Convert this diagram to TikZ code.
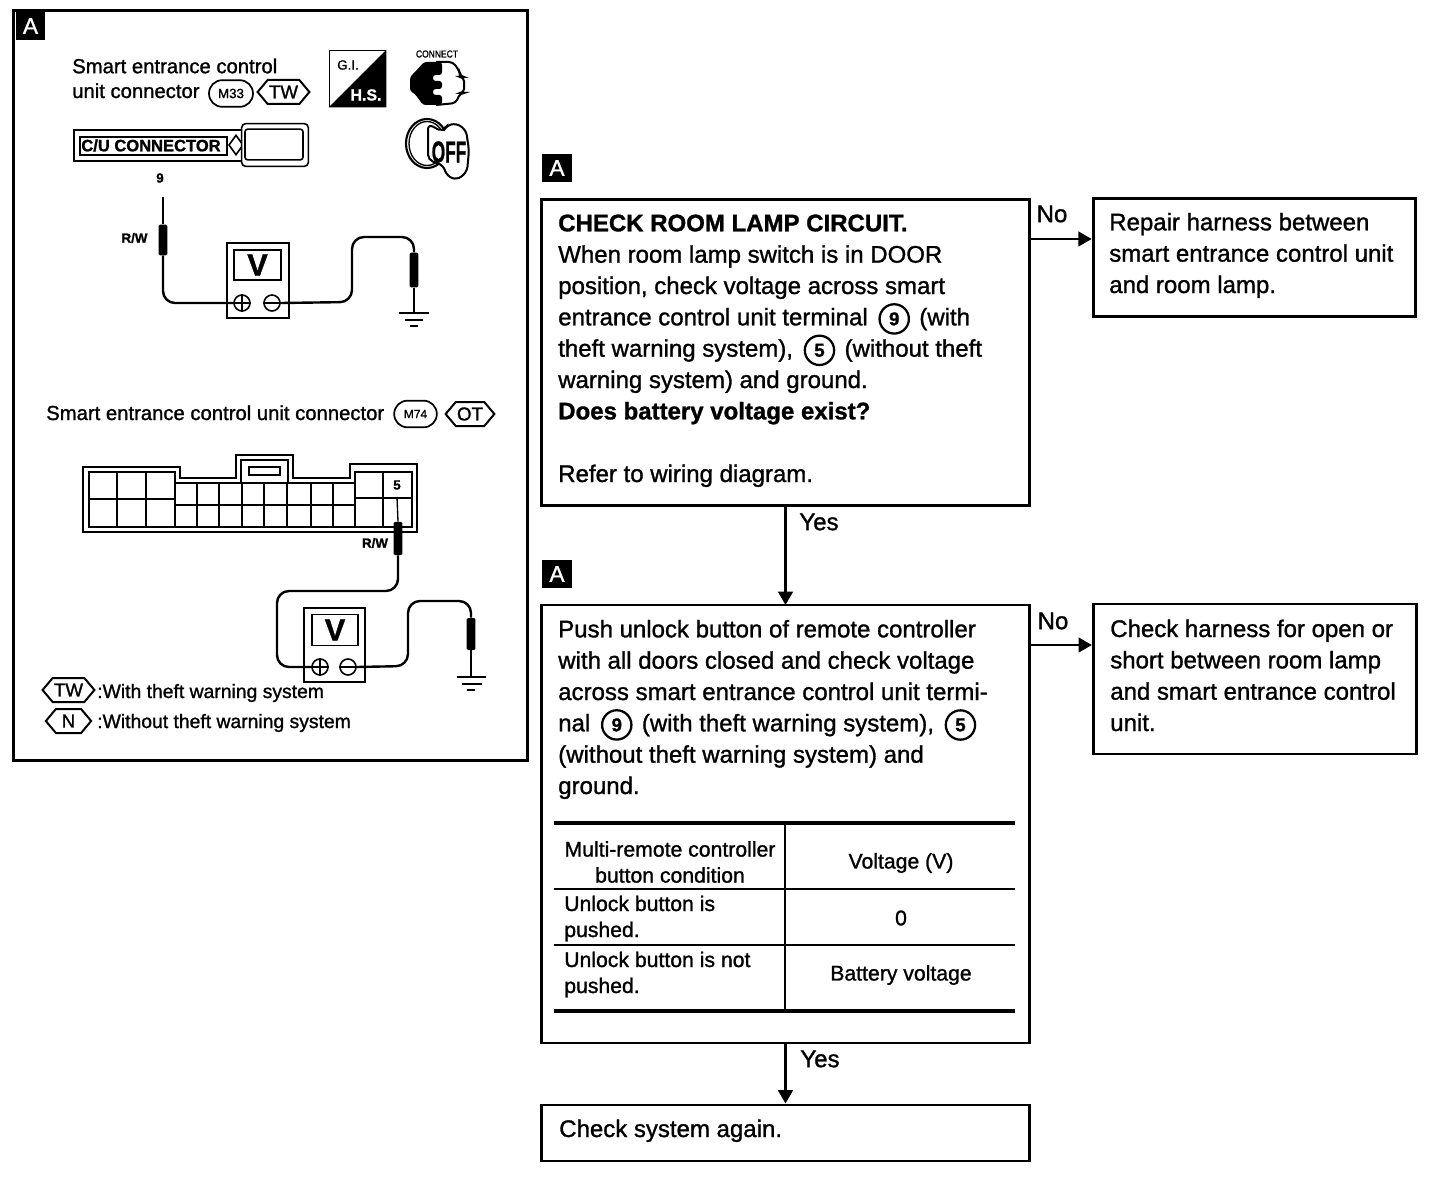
\documentclass[tikz,border=0pt]{standalone}
\usepackage{fontspec}
\setmainfont{Liberation Sans}[FakeBold=1.2]
\usepackage{tikz}
\usetikzlibrary{shapes,arrows.meta,positioning}
\newcommand{\BodyFont}{\fontsize{18pt}{23.5pt}\selectfont}
\newcommand{\CellFont}{\fontsize{15.9pt}{19.5pt}\selectfont}
\newcommand{\PanelFont}{\fontsize{15.2pt}{18.6pt}\selectfont}
\newcommand{\LegendFont}{\fontsize{14.5pt}{18.6pt}\selectfont}
\newcommand{\TermNum}[1]{\hspace{3pt}\smash{\tikz[baseline=(n.base)] \node (n) [circle, draw, line width=1.7pt, minimum size=22pt, inner sep=0pt, font=\bfseries\fontsize{14pt}{14pt}\selectfont] {#1};}\hspace{2pt}}

\begin{document}
\begin{tikzpicture}[x=0.75pt, y=-0.75pt]
	\tikzstyle{Box}		= [draw, line width=2.2pt, rectangle, inner sep=0pt]
	\tikzstyle{Body}	= [anchor=base west, inner sep=0pt, align=left, font=\BodyFont]
	\tikzstyle{Cell}	= [inner sep=0pt, align=center, font=\CellFont]
	\tikzstyle{CellL}	= [anchor=base west, inner sep=0pt, align=left, font=\CellFont]
	\tikzstyle{Panel}	= [anchor=base west, inner sep=0pt, align=left, font=\PanelFont]
	\tikzstyle{Legend}	= [anchor=base west, inner sep=0pt, align=left, font=\LegendFont]
	\tikzstyle{Mark}	= [rectangle, fill=black, text=white, minimum width=22pt, minimum height=21pt, inner sep=0pt, font=\fontsize{17pt}{17pt}\selectfont]
	\tikzstyle{Flow}	= [line width=1.8pt, -{Triangle[length=10pt, width=11pt]}]
	\tikzstyle{Rule}	= [line width=3pt]
	\tikzstyle{Thin}	= [line width=1.8pt]
	\tikzstyle{Hex}		= [draw, line width=1.5pt, signal, signal to=west and east, signal pointer angle=100, inner sep=1pt, minimum height=18pt, font=\fontsize{14pt}{14pt}\selectfont]
	\tikzstyle{Plug}	= [draw, line width=1.3pt, rounded rectangle, minimum width=33pt, minimum height=20pt, inner sep=0pt, font=\fontsize{10pt}{10pt}\selectfont]
	\tikzstyle{Meter}	= [draw, line width=1.5pt, rectangle, inner sep=0pt]
	\tikzstyle{Display}	= [draw, line width=1.2pt, rectangle, inner sep=0pt, font=\bfseries\fontsize{23pt}{23pt}\selectfont]
	\tikzstyle{Pole}	= [draw, circle, line width=1.2pt, fill=white, minimum size=12pt, inner sep=0pt]
	\tikzstyle{Grip}	= [rectangle, fill=black, rounded corners=1pt, minimum width=6.5pt, inner sep=0pt]
	\tikzstyle{Wire}	= [line width=1.8pt, rounded corners=9pt]
	\tikzstyle{Tip}		= [line width=1pt]
	\tikzstyle{Small}	= [inner sep=0pt, font=\bfseries\fontsize{10pt}{10pt}\selectfont]

	\useasboundingbox (0, 0) rectangle (1456, 1184);

	% left panel
	\node (panel) at (270.5, 385.5) [Box, minimum width=386pt, minimum height=562pt] {};
	\node (markL) at (30.5, 26) [Mark] {A};

	\node (title1) at (72, 98) [Panel] {Smart entrance control\\unit connector};
	\node (m33) at (231, 93.5) [Plug] {M33};
	\node (tw1) at (283.5, 92) [Hex] {TW};

	% icons
	\node (hs) at (357.5, 78.5) [draw, line width=1.2pt, minimum size=42pt, inner sep=0pt] {};
	\fill (hs.north east) -- (hs.south west) -- (hs.south east) -- cycle;
	\node (hsT) at (366, 95) [inner sep=0pt, text=white, font=\bfseries\fontsize{12pt}{12pt}\selectfont] {H.S.};
	\node (giT) at (348, 65) [inner sep=0pt, font=\fontsize{10pt}{10pt}\selectfont] {G.I.};
	\node (con) at (437, 54) [inner sep=0pt, xscale=0.85, font=\fontsize{7.5pt}{7.5pt}\selectfont] {CONNECT};
	\draw [line width=1.5pt, rounded corners=3pt] (436, 62) -- (453, 62) -- (460, 72) -- (460, 77) -- (464, 77) -- (464, 93) -- (460, 93) -- (456, 103) -- (436, 105);
	\fill [rounded corners=2pt] (442, 62) -- (424, 62) -- (415, 72) -- (410, 77) -- (410, 91) -- (415, 94) -- (423, 105) -- (442, 105) -- (442, 95) -- (433, 95) -- (433, 89) -- (442, 89) -- (442, 81) -- (433, 81) -- (433, 75) -- (442, 75) -- cycle;
	\draw [line width=1.6pt] (427, 143.5) ellipse [x radius=21, y radius=24.5];
	\draw [line width=1pt] (427, 143.5) ellipse [x radius=18, y radius=22];
	\draw [line width=1.5pt, fill=white, rounded corners=4pt] (428, 124) -- (443, 132) -- (446, 126) -- (456, 123) -- (466, 130) -- (469, 150) -- (467, 172) -- (457, 180) -- (447, 176) -- (443, 165) -- (428, 160) -- cycle;
	\node (off) at (449, 152) [inner sep=0pt, xscale=0.72, yscale=1.25, font=\bfseries\fontsize{18pt}{18pt}\selectfont] {OFF};

	% C/U connector
	\node (cuOut) at (158, 145.5) [draw, line width=1.2pt, minimum width=126pt, minimum height=23pt, inner sep=0pt] {};
	\node (cuIn) at (153.5, 146) [draw, line width=1.4pt, minimum width=110pt, minimum height=13.5pt, inner sep=0pt] {};
	\node (cuT) at (151, 145.5) [inner sep=0pt, font=\bfseries\fontsize{12.4pt}{12.4pt}\selectfont] {C/U CONNECTOR};
	\node (cuKey) at (236, 145) [draw, diamond, aspect=0.75, line width=1.2pt, minimum width=11pt, minimum height=15pt, inner sep=0pt] {};
	\node (cuOuter) at (275, 145) [draw, fill=white, line width=1.2pt, rounded corners=3pt, minimum width=50pt, minimum height=32pt, inner sep=0pt] {};
	\node (cuInner) at (274, 144.5) [draw, line width=1.2pt, rounded corners=2pt, minimum width=43.5pt, minimum height=23pt, inner sep=0pt] {};

	% first measurement
	\node (n9) at (160, 178) [Small] {9};
	\node (rw1) at (134.5, 238) [Small] {R/W};
	\node (grip1) at (163, 240) [Grip, minimum height=23pt] {};
	\coordinate (tip1) at (163, 197);
	\node (meter1) at (258, 280.5) [Meter, minimum width=46.5pt, minimum height=56pt] {};
	\node (disp1) at (257.5, 265) [Display, minimum width=35pt, minimum height=22.5pt] {V};
	\node (plus1) at (242, 303) [Pole] {};
	\node (minus1) at (272, 303) [Pole] {};
	\draw (plus1.west) -- (plus1.east) (plus1.north) -- (plus1.south) [Tip];
	\draw (minus1.west) -- (minus1.east) [Tip];
	\node (grip2) at (414, 270) [Grip, minimum height=26pt] {};
	\coordinate (gnd1) at (414, 313);
	\draw [-] (tip1) to (grip1.north) [Tip];
	\draw [Wire] (grip1.south) |- (plus1.west);
	\draw [Wire] (minus1.east) -- (352, 302) -- (352, 237) -- (414, 237) -- (grip2.north);
	\draw [-] (grip2.south) to (gnd1) [Tip];
	\draw [Thin] (399, 313) -- (429, 313) (405, 320) -- (423, 320) (410, 326) -- (418, 326);

	% second connector
	\node (title2) at (46, 420) [Panel] {Smart entrance control unit connector};
	\node (m74) at (415.5, 414) [Plug, minimum width=32pt, font=\fontsize{9pt}{9pt}\selectfont] {M74};
	\node (ot) at (470, 414) [Hex] {OT};
	\draw [line width=1.2pt] (83, 467) -- (180, 467) -- (180, 478) -- (236, 478) -- (236, 455) -- (293, 455) -- (293, 478) -- (350, 478) -- (350, 464) -- (417, 464) -- (417, 532) -- (83, 532) -- cycle;
	\draw [line width=1.5pt] (89, 472) -- (175, 472) -- (175, 483) -- (241, 483) -- (241, 460) -- (288, 460) -- (288, 483) -- (355, 483) -- (355, 472) -- (412, 472) -- (412, 527) -- (89, 527) -- cycle;
	\draw [line width=1.5pt] (241, 483) -- (288, 483) (117, 472) -- (117, 527) (146, 472) -- (146, 527) (175, 483) -- (175, 527) (355, 483) -- (355, 527) (383, 472) -- (383, 527) (89, 499) -- (175, 499) (355, 498) -- (412, 498);
	\draw [line width=1pt] (197, 483) -- (197, 527) (219, 483) -- (219, 527) (242, 483) -- (242, 527) (264, 483) -- (264, 527) (287, 483) -- (287, 527) (311, 483) -- (311, 527) (333, 483) -- (333, 527) (175, 505) -- (355, 505);
	\node (slot) at (264.5, 471) [draw, line width=1.3pt, minimum width=23pt, minimum height=6.5pt, inner sep=0pt] {};

	% second measurement
	\node (n5) at (397, 485) [Small] {5};
	\node (rw2) at (375, 543) [Small] {R/W};
	\node (grip3) at (398, 538.5) [Grip, minimum height=25pt] {};
	\coordinate (tip3) at (397, 497);
	\node (meter2) at (334.5, 645) [Meter, minimum width=46pt, minimum height=55.5pt] {};
	\node (disp2) at (335, 630) [Display, minimum width=34.5pt, minimum height=23pt] {V};
	\node (plus2) at (320, 667) [Pole] {};
	\node (minus2) at (348, 667) [Pole] {};
	\draw (plus2.west) -- (plus2.east) (plus2.north) -- (plus2.south) [Tip];
	\draw (minus2.west) -- (minus2.east) [Tip];
	\node (grip4) at (471, 634) [Grip, minimum height=24pt] {};
	\coordinate (gnd2) at (471, 677);
	\draw [-] (tip3) to (grip3.north) [Tip];
	\draw [Wire] (grip3.south) |- (277, 591) |- (plus2.west);
	\draw [Wire] (minus2.east) -- (408, 666) -- (408, 601) -- (471, 601) -- (grip4.north);
	\draw [-] (grip4.south) to (gnd2) [Tip];
	\draw [Thin] (457, 677) -- (486, 677) (462, 684) -- (482, 684) (467, 690) -- (475, 690);

	\node (tw2) at (68.5, 690) [Hex, minimum width=34pt] {TW};
	\node (n1) at (68.5, 721) [Hex, minimum width=34pt] {N};
	\node (leg1) at (97, 698) [Legend] {:With theft warning system};
	\node (leg2) at (97, 728) [Legend] {:Without theft warning system};

	% first check
	\node (markA) at (557, 168) [Mark] {A};
	\node (check) at (785.5, 352.5) [Box, minimum width=366.5pt, minimum height=230pt] {};
	\node (checkT) at (558, 482) [Body] {\textbf{CHECK ROOM LAMP CIRCUIT.}\\When room lamp switch is in DOOR\\position, check voltage across smart\\entrance control unit terminal \TermNum{9} (with\\theft warning system), \TermNum{5} (without theft\\warning system) and ground.\\\textbf{Does battery voltage exist?}\\[23.5pt]Refer to wiring diagram.};
	\node (repair) at (1254.5, 257.5) [Box, minimum width=242pt, minimum height=89pt] {};
	\node (repairT) at (1109, 293) [Body] {Repair harness between\\smart entrance control unit\\and room lamp.};
	\coordinate (no1) at (1030, 239);
	\draw [Flow] (no1) to (repair.west |- no1);
	\node (noA) at (1052, 214) [Body, anchor=center] {No};
	\draw [Flow] (check.south) to (check.south |- 0, 605);
	\node (yesA) at (819, 522) [Body, anchor=center] {Yes};

	% second check
	\node (markB) at (557, 574) [Mark] {A};
	\node (push) at (785.5, 824) [Box, minimum width=366.5pt, minimum height=328.5pt] {};
	\node (pushT) at (558, 794) [Body] {Push unlock button of remote controller\\with all doors closed and check voltage\\across smart entrance control unit termi-\\nal \TermNum{9} (with theft warning system), \TermNum{5}\\(without theft warning system) and\\ground.};
	\node (harness) at (1255, 679) [Box, minimum width=242.5pt, minimum height=112.5pt] {};
	\node (harnessT) at (1110, 731) [Body] {Check harness for open or\\short between room lamp\\and smart entrance control\\unit.};
	\coordinate (no2) at (1031, 645);
	\draw [Flow] (no2) to (harness.west |- no2);
	\node (noB) at (1053, 621) [Body, anchor=center] {No};

	% table
	\coordinate (tl) at (554, 823);
	\coordinate (tr) at (1015, 823);
	\coordinate (bl) at (554, 1011);
	\coordinate (br) at (1015, 1011);
	\draw [Rule] (tl) to (tr);
	\draw [Rule] (bl) to (br);
	\draw [Thin] (554, 889) -- (1015, 889) (554, 945) -- (1015, 945) (785, 823) -- (785, 1011);
	\node (h1) at (670, 862) [Cell] {Multi-remote controller\\button condition};
	\node (h2) at (901, 863) [Cell] {Voltage (V)};
	\node (c1) at (564, 937) [CellL] {Unlock button is\\pushed.};
	\node (c2) at (901, 918) [Cell] {0};
	\node (c3) at (564, 993) [CellL] {Unlock button is not\\pushed.};
	\node (c4) at (901, 975) [Cell] {Battery voltage};

	% last step
	\node (again) at (785.5, 1133) [Box, minimum width=366.5pt, minimum height=42pt] {};
	\node (againT) at (559, 1137) [Body] {Check system again.};
	\draw [Flow] (push.south) to (again.north);
	\node (yesB) at (820, 1059) [Body, anchor=center] {Yes};
\end{tikzpicture}
\end{document}
